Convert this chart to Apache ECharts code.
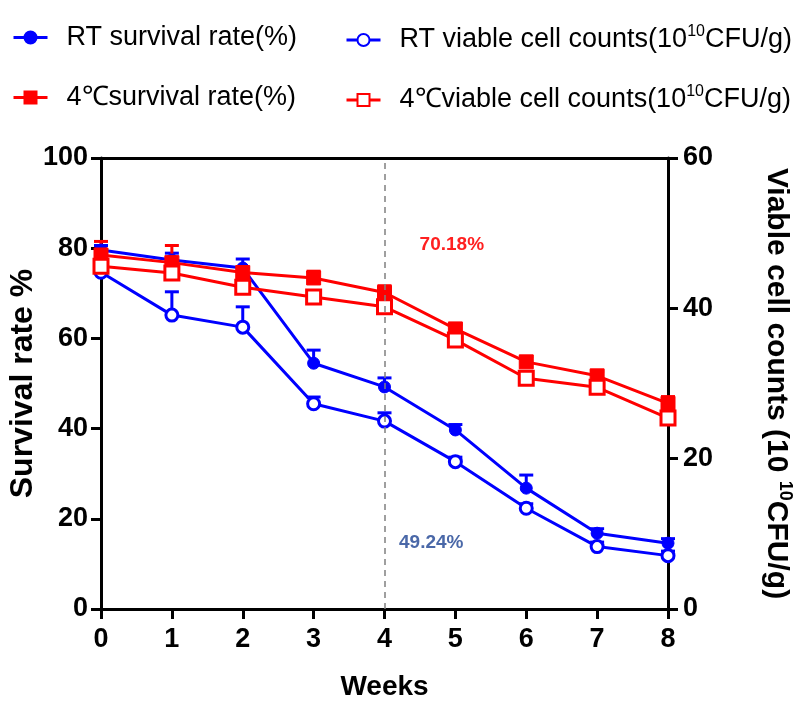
<!DOCTYPE html>
<html>
<head>
<meta charset="utf-8">
<script src="https://cdn.jsdelivr.net/npm/echarts@6/dist/echarts.min.js"></script>
<style>
  html, body { margin: 0; padding: 0; background: #fff; }
  #chart { width: 810px; height: 701px; }
</style>
</head>
<body>
<div id="chart"></div>
<script>
// Storage weeks
const weeks = [0, 1, 2, 3, 4, 5, 6, 7, 8];

// Room temperature (RT) storage
const rtSurvival = [79.6, 77.4, 75.6, 54.5, 49.24, 39.7, 26.8, 16.8, 14.6];
const rtSurvivalErr = [1.0, 1.5, 2.0, 2.9, 2.0, 1.2, 2.9, 1.0, 1.0];
const rtViable = [44.8, 39.1, 37.5, 27.3, 25.0, 19.6, 13.4, 8.3, 7.1];
const rtViableErr = [0.6, 3.1, 2.7, 0.9, 1.1, 0.6, 0.6, 0.6, 0.6];

// 4 °C storage
const coldSurvival = [78.5, 76.8, 74.6, 73.4, 70.18, 62.1, 54.8, 51.7, 45.6];
const coldSurvivalErr = [3.0, 3.8, 1.0, 1.5, 1.5, 1.0, 1.2, 1.0, 1.5];
const coldViable = [45.6, 44.7, 42.8, 41.5, 40.2, 35.8, 30.7, 29.5, 25.4];
const coldViableErr = [0.8, 0.8, 0.8, 0.8, 0.8, 0.8, 0.8, 0.8, 0.8];

// Axis ticks
const leftTicks = [0, 20, 40, 60, 80, 100];
const rightTicks = [0, 20, 40, 60];

const BLUE = '#0000ff';
const RED = '#ff0000';
const FONT = "'Liberation Sans', Arial, sans-serif";

const pairs = (vals) => weeks.map((w, i) => [w, vals[i]]);
const triples = (vals, errs) => weeks.map((w, i) => [w, vals[i], errs[i]]);

// Upward error bar with a cap
function errorBarSeries(name, vals, errs, color, yAxisIndex) {
  return {
    type: 'custom',
    name: name,
    yAxisIndex: yAxisIndex,
    silent: true,
    encode: { x: 0, y: 1 },
    data: triples(vals, errs),
    renderItem: function (params, api) {
      const x = api.value(0), y = api.value(1), e = api.value(2);
      const p0 = api.coord([x, y]);
      const p1 = api.coord([x, y + e]);
      const half = 7;
      return {
        type: 'group',
        children: [
          { type: 'line', shape: { x1: p0[0], y1: p0[1], x2: p1[0], y2: p1[1] },
            style: { stroke: color, lineWidth: 3 } },
          { type: 'line', shape: { x1: p1[0] - half, y1: p1[1], x2: p1[0] + half, y2: p1[1] },
            style: { stroke: color, lineWidth: 3 } }
        ]
      };
    }
  };
}

function lineSeries(name, vals, color, yAxisIndex, symbol, size, open) {
  return {
    type: 'line',
    name: name,
    yAxisIndex: yAxisIndex,
    data: pairs(vals),
    symbol: symbol,
    symbolSize: size,
    showAllSymbol: true,
    lineStyle: { color: color, width: 3 },
    itemStyle: open
      ? { color: '#ffffff', borderColor: color, borderWidth: 3 }
      : { color: color, borderColor: color, borderWidth: 1 },
    emphasis: { disabled: true }
  };
}

const NAMES = {
  rtSurv: 'RT survival rate(%)',
  rtVia: 'RT viable cell counts(10^10CFU/g)',
  coldSurv: '4℃survival rate(%)',
  coldVia: '4℃viable cell counts(10^10CFU/g)'
};

function legendLabel(name) {
  if (name.indexOf('^10') >= 0) {
    const parts = name.split('^10');
    return '{n|' + parts[0] + '}{s|10}{n|' + parts[1] + '}';
  }
  return '{n|' + name + '}';
}

const legendRich = {
  n: { fontSize: 27, fontFamily: FONT, color: '#000', lineHeight: 32 },
  s: { fontSize: 16, fontFamily: FONT, color: '#000', lineHeight: 16, verticalAlign: 'top' }
};

function legendAt(name, left, top) {
  return {
    data: [name],
    left: left,
    top: top,
    padding: 0,
    itemWidth: 34,
    itemHeight: 15,
    selectedMode: false,
    formatter: legendLabel,
    lineStyle: { width: 3 },
    textStyle: { rich: legendRich, padding: [0, 0, 0, 14] }
  };
}

const rtSurvSeries = lineSeries(NAMES.rtSurv, rtSurvival, BLUE, 0, 'circle', 12, false);
rtSurvSeries.markLine = {
  silent: true,
  symbol: 'none',
  label: { show: false },
  lineStyle: { color: '#808080', width: 1.5, type: [6, 5] },
  data: [{ xAxis: weeks[4] }]
};
rtSurvSeries.markPoint = {
  silent: true,
  symbol: 'circle',
  symbolSize: 1,
  itemStyle: { color: 'rgba(0,0,0,0)' },
  label: {
    show: true, position: 'inside', formatter: '{c}%',
    fontSize: 19, fontWeight: 'bold', fontFamily: FONT, color: '#4a68a8'
  },
  data: [{ coord: [4.66, 14.6], value: rtSurvival[4] }]
};

const coldSurvSeries = lineSeries(NAMES.coldSurv, coldSurvival, RED, 0, 'rect', 14, false);
coldSurvSeries.markPoint = {
  silent: true,
  symbol: 'circle',
  symbolSize: 1,
  itemStyle: { color: 'rgba(0,0,0,0)' },
  label: {
    show: true, position: 'inside', formatter: '{c}%',
    fontSize: 19, fontWeight: 'bold', fontFamily: FONT, color: '#ff2020'
  },
  data: [{ coord: [4.95, 80.7], value: coldSurvival[4] }]
};

const axisLineStyle = { color: '#000', width: 3 };
const tickStyle = { length: 10, lineStyle: { color: '#000', width: 3 } };
const tickLabel = { fontSize: 27, fontWeight: 'bold', fontFamily: FONT, color: '#000' };

const option = {
  animation: false,
  backgroundColor: '#ffffff',
  legend: [
    legendAt(NAMES.rtSurv, 12, 24),
    legendAt(NAMES.coldSurv, 12, 84),
    legendAt(NAMES.rtVia, 345, 24),
    legendAt(NAMES.coldVia, 345, 84)
  ],
  grid: {
    left: 101, right: 142, top: 158, bottom: 92,
    containLabel: false,
    outerBoundsMode: 'none'
  },
  xAxis: [
    {
      type: 'value',
      min: 0, max: 8, interval: 1,
      name: 'Weeks',
      nameLocation: 'middle',
      nameGap: 64,
      nameTextStyle: { fontSize: 28, fontWeight: 'bold', fontFamily: FONT, color: '#000' },
      axisLine: { show: true, onZero: false, lineStyle: axisLineStyle },
      axisTick: Object.assign({ show: true }, tickStyle),
      axisLabel: Object.assign({ margin: 17 }, tickLabel),
      splitLine: { show: false }
    },
    {
      type: 'value',
      position: 'top',
      min: 0, max: 8, interval: 1,
      axisLine: { show: true, onZero: false, lineStyle: axisLineStyle },
      axisTick: { show: false },
      axisLabel: { show: false },
      splitLine: { show: false }
    }
  ],
  yAxis: [
    {
      type: 'value',
      min: leftTicks[0], max: leftTicks[leftTicks.length - 1], interval: 20,
      position: 'left',
      name: 'Survival rate %',
      nameLocation: 'middle',
      nameGap: 62,
      nameMoveOverlap: false,
      nameRotate: 90,
      nameTextStyle: { fontSize: 32, fontWeight: 'bold', fontFamily: FONT, color: '#000' },
      axisLine: { show: true, onZero: false, lineStyle: axisLineStyle },
      axisTick: Object.assign({ show: true }, tickStyle),
      axisLabel: Object.assign({ margin: 13 }, tickLabel),
      splitLine: { show: false }
    },
    {
      type: 'value',
      min: rightTicks[0], max: rightTicks[rightTicks.length - 1], interval: 20,
      position: 'right',
      name: '{n|Viable cell counts (10 }{s|10}{n|CFU/g)}',
      nameLocation: 'middle',
      nameGap: 90,
      nameMoveOverlap: false,
      nameRotate: -90,
      nameTextStyle: {
        rich: {
          n: { fontSize: 30, fontWeight: 'bold', fontFamily: FONT, color: '#000', lineHeight: 36 },
          s: { fontSize: 18, fontWeight: 'bold', fontFamily: FONT, color: '#000', lineHeight: 18, verticalAlign: 'top' }
        }
      },
      axisLine: { show: true, onZero: false, lineStyle: axisLineStyle },
      axisTick: Object.assign({ show: true }, tickStyle),
      axisLabel: Object.assign({ margin: 15 }, tickLabel),
      splitLine: { show: false }
    }
  ],
  series: [
    errorBarSeries('rtSurvErr', rtSurvival, rtSurvivalErr, BLUE, 0),
    rtSurvSeries,
    errorBarSeries('rtViaErr', rtViable, rtViableErr, BLUE, 1),
    lineSeries(NAMES.rtVia, rtViable, BLUE, 1, 'circle', 12, true),
    errorBarSeries('coldSurvErr', coldSurvival, coldSurvivalErr, RED, 0),
    coldSurvSeries,
    errorBarSeries('coldViaErr', coldViable, coldViableErr, RED, 1),
    lineSeries(NAMES.coldVia, coldViable, RED, 1, 'rect', 14, true)
  ]
};

const chart = echarts.init(document.getElementById('chart'), null, { renderer: 'canvas' });
chart.setOption(option);
</script>
</body>
</html>
